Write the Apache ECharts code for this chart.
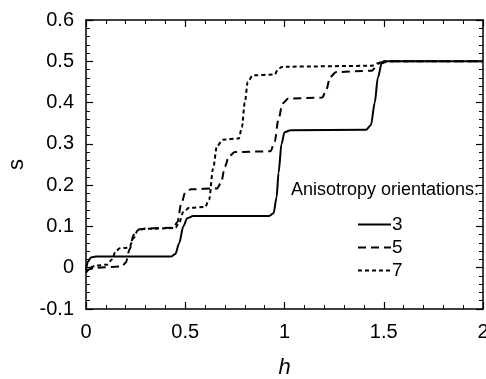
<!DOCTYPE html>
<html>
<head>
<meta charset="utf-8">
<script src="https://cdn.jsdelivr.net/npm/echarts@6/dist/echarts.min.js"></script>
<style>
  html, body { margin: 0; padding: 0; background: #fff; }
  #main { width: 486px; height: 379px; }
</style>
</head>
<body>
<div id="main"></div>
<script>
// h, s pairs
var orient3 = [
    [0, -0.005], [0.01, 0.015], [0.025, 0.025], [0.05, 0.027], [0.43, 0.027],
    [0.45, 0.033], [0.47, 0.06], [0.49, 0.1], [0.51, 0.12], [0.54, 0.125],
    [0.92, 0.125], [0.945, 0.132], [0.96, 0.17], [0.97, 0.23], [0.985, 0.3],
    [1.0, 0.328], [1.03, 0.333], [1.41, 0.334], [1.435, 0.345], [1.455, 0.4],
    [1.47, 0.46], [1.49, 0.495], [1.52, 0.5], [2, 0.5]
];
var orient5 = [
    [0, -0.01], [0.02, -0.003], [0.05, 0.0], [0.18, 0.003], [0.2, 0.012],
    [0.22, 0.045], [0.24, 0.08], [0.27, 0.093], [0.3, 0.095], [0.44, 0.097],
    [0.46, 0.11], [0.48, 0.155], [0.5, 0.182], [0.53, 0.19], [0.66, 0.192],
    [0.68, 0.205], [0.7, 0.245], [0.72, 0.27], [0.75, 0.28], [0.93, 0.282],
    [0.95, 0.305], [0.97, 0.36], [0.99, 0.398], [1.02, 0.41], [1.19, 0.412],
    [1.21, 0.43], [1.23, 0.462], [1.26, 0.474], [1.44, 0.477], [1.46, 0.486],
    [1.48, 0.497], [1.51, 0.5], [2, 0.5]
];
var orient7 = [
    [0, -0.012], [0.02, 0.0], [0.05, 0.005], [0.11, 0.008], [0.13, 0.02],
    [0.15, 0.04], [0.17, 0.047], [0.2, 0.048], [0.22, 0.052], [0.24, 0.072],
    [0.26, 0.09], [0.29, 0.094], [0.45, 0.096], [0.47, 0.11], [0.49, 0.135],
    [0.52, 0.145], [0.6, 0.147], [0.62, 0.165], [0.64, 0.24], [0.66, 0.295],
    [0.69, 0.31], [0.77, 0.313], [0.785, 0.34], [0.8, 0.4], [0.815, 0.45],
    [0.84, 0.466], [0.95, 0.468], [0.965, 0.478], [0.985, 0.486], [1.01, 0.487],
    [1.44, 0.489], [1.47, 0.495], [1.5, 0.5], [2, 0.5]
];
var seriesNames = ['3', '5', '7'];
var legendTitle = 'Anisotropy orientations:';

var myChart = echarts.init(document.getElementById('main'));
var font = 'Arial, "Liberation Sans", sans-serif';

function axisBase(show) {
    return {
        axisLine: {show: true, onZero: false, lineStyle: {color: '#000', width: 1.5}},
        axisTick: {show: true, inside: true, length: 7, lineStyle: {color: '#000', width: 1.2}},
        minorTick: {show: true, splitNumber: 5, length: 4, lineStyle: {color: '#000', width: 1}},
        splitLine: {show: false},
        axisLabel: {show: show, color: '#000', fontFamily: font, fontSize: 20}
    };
}

var x1 = axisBase(true);
x1.type = 'value'; x1.min = 0; x1.max = 2; x1.interval = 0.5;
x1.name = 'h'; x1.nameLocation = 'middle'; x1.nameGap = 48;
x1.nameTextStyle = {color: '#000', fontFamily: font, fontSize: 22, fontStyle: 'italic'};
x1.axisLabel.margin = 13;
x1.axisLabel.formatter = function (v) { return String(v); };

var x2 = axisBase(false);
x2.type = 'value'; x2.min = 0; x2.max = 2; x2.interval = 0.5; x2.position = 'top';

var y1 = axisBase(true);
y1.type = 'value'; y1.min = -0.1; y1.max = 0.6; y1.interval = 0.1;
y1.name = 's'; y1.nameLocation = 'middle'; y1.nameGap = 58; y1.nameRotate = 90;
y1.nameTextStyle = {color: '#000', fontFamily: font, fontSize: 22};
y1.axisLabel.margin = 12;
y1.axisLabel.formatter = function (v) { return String(Math.round(v * 10) / 10); };

var y2 = axisBase(false);
y2.type = 'value'; y2.min = -0.1; y2.max = 0.6; y2.interval = 0.1; y2.position = 'right';

function line(name, data, type) {
    return {
        name: name,
        type: 'line',
        data: data,
        symbol: 'none',
        smooth: 0.3,
        smoothMonotone: 'x',
        lineStyle: {color: '#000', width: 2, type: type},
        itemStyle: {color: '#000'},
        animation: false
    };
}

var option = {
    animation: false,
    grid: {left: 86, right: 3, top: 20, bottom: 70, containLabel: false, outerBoundsMode: 'none'},
    title: {
        text: legendTitle,
        left: 291, top: 181, padding: 0,
        textStyle: {color: '#000', fontFamily: font, fontSize: 18, fontWeight: 'normal'}
    },
    legend: {
        data: seriesNames,
        orient: 'vertical',
        left: 357, top: 215, padding: 0,
        itemWidth: 33, itemHeight: 14, itemGap: 4,
        itemStyle: {opacity: 0},
        textStyle: {color: '#000', fontFamily: font, fontSize: 19, lineHeight: 19, padding: [0, 0, 0, -4]}
    },
    xAxis: [x1, x2],
    yAxis: [y1, y2],
    series: [
        line(seriesNames[0], orient3, 'solid'),
        line(seriesNames[1], orient5, [8, 5]),
        line(seriesNames[2], orient7, [4, 3])
    ]
};

myChart.setOption(option);
</script>
</body>
</html>
